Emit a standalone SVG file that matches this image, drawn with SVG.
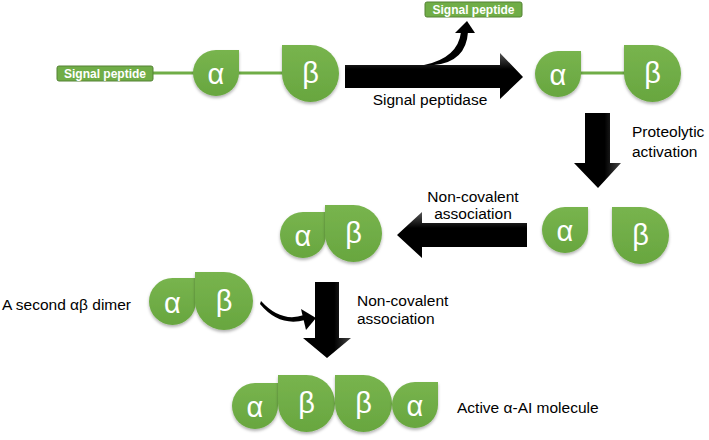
<svg xmlns="http://www.w3.org/2000/svg" width="709" height="440" viewBox="0 0 709 440">
<defs>
<style>
.g{fill:url(#gg);filter:url(#sh)}
.gl{fill:#70ad47;stroke:#548235;stroke-width:1}
.ln{stroke:#70ad47;stroke-width:3;fill:none}
.sym{font-family:"Liberation Sans",Arial,sans-serif;font-size:29px;fill:#fff;text-anchor:middle}
.lbl{font-family:"Liberation Sans",Arial,sans-serif;font-size:12px;font-weight:bold;fill:#fff;text-anchor:middle}
.t{font-family:"Liberation Sans",Arial,sans-serif;font-size:15.5px;fill:#000}
.ah{fill:url(#hg)}
.av{fill:url(#vg)}
.blk{fill:#000}
</style>
<filter id="sh" x="-20%" y="-20%" width="140%" height="150%">
<feDropShadow dx="0" dy="2" stdDeviation="1.5" flood-color="#000" flood-opacity="0.3"/>
</filter>
<linearGradient id="gg" x1="0" y1="0" x2="0" y2="1">
<stop offset="0" stop-color="#78b44e"/>
<stop offset="1" stop-color="#68a63f"/>
</linearGradient>
<linearGradient id="hg" x1="0" y1="0" x2="0" y2="1">
<stop offset="0" stop-color="#555"/>
<stop offset="0.35" stop-color="#000"/>
<stop offset="1" stop-color="#000"/>
</linearGradient>
<linearGradient id="vg" x1="0" y1="0" x2="1" y2="0">
<stop offset="0" stop-color="#000"/>
<stop offset="0.65" stop-color="#000"/>
<stop offset="1" stop-color="#444"/>
</linearGradient>
</defs>
<rect width="709" height="440" fill="#fff"/>

<g id="connectors">
<line class="ln" x1="153" y1="73" x2="284" y2="73"/>
<line class="ln" x1="578" y1="73" x2="626" y2="73"/>
<polygon class="ah" points="345,65 500,65 500,53 523,77 500,99 500,88 345,88"/>
<path class="blk" d="M424,65 Q458,58 461,32 L468,32 Q466,62 434,65 Z"/>
<polygon class="blk" points="455,33 475,33 467,21"/>
<polygon class="av" points="585,113 610,113 610,163 621,163 598,188 574,163 585,163"/>
<polygon class="ah" points="527,223 422,223 422,212 397,235 422,258 422,247 527,247"/>
<polygon class="av" points="315,282 339,282 339,338 351,338 327,358 303,338 315,338"/>
<path class="blk" d="M261,301 Q281,323 304,315 L305,320 Q279,327 260,304 Z"/>
<polygon class="blk" points="301,309 306,330 316,318"/>
</g>

<g id="signal-peptide-1">
<rect class="gl" x="57" y="66" width="96" height="15" rx="2"/>
<text class="lbl" x="105" y="78">Signal peptide</text>
</g>
<g id="alpha-1">
<path class="g" d="M216,50 L239,50 L239,73 A23,23 0 0 1 216,96 A23,23 0 0 1 193,73 A23,23 0 0 1 216,50 Z"/>
<text class="sym" x="216" y="84">α</text>
</g>
<g id="beta-1">
<path class="g" d="M282,45 L310.5,45 A28.5,28.5 0 0 1 339,73.5 A28.5,28.5 0 0 1 310.5,102 A28.5,28.5 0 0 1 282,73.5 Z"/>
<text class="sym" x="310.5" y="83">β</text>
</g>

<g id="signal-peptide-2">
<rect class="gl" x="425" y="2" width="97" height="15" rx="2"/>
<text class="lbl" x="473.5" y="14">Signal peptide</text>
</g>
<text class="t" x="430" y="105" text-anchor="middle">Signal peptidase</text>

<g id="alpha-2">
<path class="g" d="M558,51 L581,51 L581,74 A23,23 0 0 1 558,97 A23,23 0 0 1 535,74 A23,23 0 0 1 558,51 Z"/>
<text class="sym" x="558" y="85">α</text>
</g>
<g id="beta-2">
<path class="g" d="M624,45 L652.5,45 A28.5,28.5 0 0 1 681,73.5 A28.5,28.5 0 0 1 652.5,102 A28.5,28.5 0 0 1 624,73.5 Z"/>
<text class="sym" x="652.5" y="83">β</text>
</g>

<text class="t" x="632" y="137">Proteolytic</text>
<text class="t" x="632" y="157">activation</text>

<g id="alpha-3">
<path class="g" d="M565,207 L588,207 L588,230 A23,23 0 0 1 565,253 A23,23 0 0 1 542,230 A23,23 0 0 1 565,207 Z"/>
<text class="sym" x="565" y="241">α</text>
</g>
<g id="beta-3">
<path class="g" d="M612,207 L640.5,207 A28.5,28.5 0 0 1 669,235.5 A28.5,28.5 0 0 1 640.5,264 A28.5,28.5 0 0 1 612,235.5 Z"/>
<text class="sym" x="640.5" y="245">β</text>
</g>

<text class="t" x="473" y="202" text-anchor="middle">Non-covalent</text>
<text class="t" x="473" y="219" text-anchor="middle">association</text>

<g id="dimer-1">
<path class="g" d="M303,212 L326,212 L326,235 A23,23 0 0 1 303,258 A23,23 0 0 1 280,235 A23,23 0 0 1 303,212 Z"/>
<text class="sym" x="303" y="246">α</text>
<path class="g" d="M325,205 L353.5,205 A28.5,28.5 0 0 1 382,233.5 A28.5,28.5 0 0 1 353.5,262 A28.5,28.5 0 0 1 325,233.5 Z"/>
<text class="sym" x="353.5" y="243">β</text>
</g>

<text class="t" x="2" y="310">A second αβ dimer</text>

<g id="dimer-2">
<path class="g" d="M172.5,278 L196,278 L196,301.5 A23.5,23.5 0 0 1 172.5,325 A23.5,23.5 0 0 1 149,301.5 A23.5,23.5 0 0 1 172.5,278 Z"/>
<text class="sym" x="172.5" y="313">α</text>
<path class="g" d="M195,272 L224,272 A29,29 0 0 1 253,301 A29,29 0 0 1 224,330 A29,29 0 0 1 195,301 Z"/>
<text class="sym" x="224" y="311">β</text>
</g>

<text class="t" x="357" y="306">Non-covalent</text>
<text class="t" x="357" y="324">association</text>

<g id="tetramer">
<path class="g" d="M255,383 L278,383 L278,406 A23,23 0 0 1 255,429 A23,23 0 0 1 232,406 A23,23 0 0 1 255,383 Z"/>
<text class="sym" x="255" y="417">α</text>
<path class="g" d="M278,375 L306.5,375 A28.5,28.5 0 0 1 335,403.5 A28.5,28.5 0 0 1 306.5,432 A28.5,28.5 0 0 1 278,403.5 Z"/>
<text class="sym" x="306.5" y="413">β</text>
<path class="g" d="M335,375 L363.5,375 A28.5,28.5 0 0 1 392,403.5 A28.5,28.5 0 0 1 363.5,432 A28.5,28.5 0 0 1 335,403.5 Z"/>
<text class="sym" x="363.5" y="413">β</text>
<path class="g" d="M415,382 L438,382 L438,405 A23,23 0 0 1 415,428 A23,23 0 0 1 392,405 A23,23 0 0 1 415,382 Z"/>
<text class="sym" x="415" y="416">α</text>
</g>

<text class="t" x="457" y="413">Active α-AI molecule</text>
</svg>
